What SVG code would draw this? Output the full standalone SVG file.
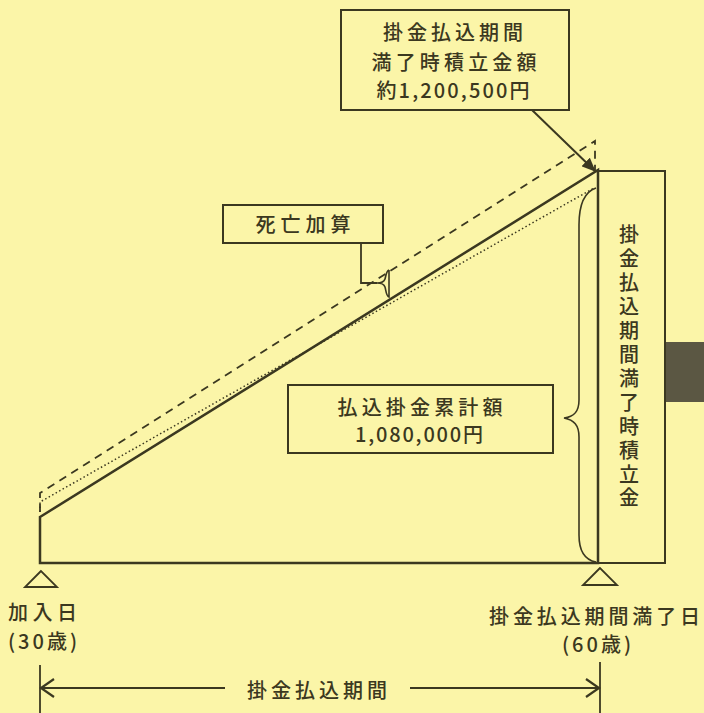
<svg xmlns="http://www.w3.org/2000/svg" width="704" height="713" viewBox="0 0 704 713">
<style>
.ln{fill:none;stroke:#3b3820;stroke-linecap:butt;stroke-linejoin:miter}
.box{fill:#fbf5a8;stroke:#3b3820;stroke-width:2}
.t{font-family:"Noto Sans CJK JP","Noto Sans",sans-serif;font-size:20px;font-weight:500;fill:#3b3820}
.v{font-family:"Liberation Sans","Noto Sans CJK JP",sans-serif;font-size:20px;font-weight:500;fill:#3b3820;text-anchor:middle}
.c{text-anchor:middle}
</style>
<defs>
<marker id="fa" markerWidth="14" markerHeight="12" refX="13" refY="6" orient="auto" markerUnits="userSpaceOnUse">
<path d="M0,0 L14,6 L0,12 Z" fill="#3b3820"/>
</marker>
<marker id="ch" markerWidth="16" markerHeight="22" refX="14" refY="11" orient="auto" markerUnits="userSpaceOnUse">
<path d="M1,2 L14,11 L1,20" fill="none" stroke="#3b3820" stroke-width="2.2"/>
</marker>
</defs>
<rect x="0" y="0" width="704" height="713" fill="#fbf5a8"/>
<rect x="666" y="342" width="38" height="60" fill="#5b5743"/>

<g id="connectors">
<path class="ln" d="M40,517 L598,170 L598,563 L40,563 Z" stroke-width="2.5"/>
<path class="ln" d="M40,512 L40,493 L595,141 L595,172" stroke-width="1.8" stroke-dasharray="8,6"/>
<path class="ln" d="M40,512 L40,502 L594,188" stroke-width="1.5" stroke-dasharray="1.5,2.5"/>
<path class="ln" d="M596,188 C584,192 579,205 579,225 L579,400 C579,412 574,417 564,418 C574,420 579,425 579,437 L579,535 C579,552 585,560 596,562" stroke="#5e5c40" stroke-width="1.6"/>
<line class="ln" x1="532" y1="110" x2="595" y2="171" stroke-width="2" marker-end="url(#fa)"/>
<path class="ln" d="M361,243 L361,283 L377,283" stroke-width="1.8"/>
<path class="ln" d="M389,270 C386,271 386,276 385,279 C384,282 381,283 377,283 C381,283 384,284 385,287 C386,290 386,296 389,297 L389,270" stroke-width="1.6"/>
<path class="ln" d="M41,571 L25,587 L57,587 Z" stroke-width="1.8"/>
<path class="ln" d="M600,568 L583,585 L617,585 Z" stroke-width="1.8"/>
<line class="ln" x1="40" y1="665" x2="40" y2="713" stroke-width="1.8"/>
<line class="ln" x1="600" y1="662" x2="600" y2="713" stroke-width="1.8"/>
<line class="ln" x1="225" y1="688" x2="41" y2="688" stroke-width="2.2" marker-end="url(#ch)"/>
<line class="ln" x1="410" y1="688" x2="599" y2="688" stroke-width="2.2" marker-end="url(#ch)"/>
</g>

<g id="node-total">
<rect class="box" x="341" y="10" width="228" height="100"/>
<text class="t c" x="453" y="40" textLength="140" lengthAdjust="spacing">掛金払込期間</text>
<text class="t c" x="454" y="70" textLength="165" lengthAdjust="spacing">満了時積立金額</text>
<text class="t c" x="453" y="98" textLength="153" lengthAdjust="spacing">約1,200,500円</text>
</g>

<g id="node-death">
<rect class="box" x="223" y="205" width="160" height="38"/>
<text class="t c" x="303" y="232" textLength="95" lengthAdjust="spacing">死亡加算</text>
</g>

<g id="node-paid">
<rect class="box" x="288" y="385" width="265" height="68"/>
<text class="t c" x="420" y="415" textLength="165" lengthAdjust="spacing">払込掛金累計額</text>
<text class="t c" x="419" y="442" textLength="128" lengthAdjust="spacing">1,080,000円</text>
</g>

<g id="node-maturity">
<rect x="598" y="171" width="67" height="392" fill="none" stroke="#3b3820" stroke-width="2"/>
<text class="v" x="629" y="242">掛</text>
<text class="v" x="629" y="266">金</text>
<text class="v" x="629" y="290">払</text>
<text class="v" x="629" y="314">込</text>
<text class="v" x="629" y="338">期</text>
<text class="v" x="629" y="362">間</text>
<text class="v" x="629" y="386">満</text>
<text class="v" x="629" y="410">了</text>
<text class="v" x="629" y="434">時</text>
<text class="v" x="629" y="458">積</text>
<text class="v" x="629" y="482">立</text>
<text class="v" x="629" y="505">金</text>
</g>

<g id="node-start">
<text class="t" x="8" y="620" textLength="69" lengthAdjust="spacing">加入日</text>
<text class="t" x="8" y="649" style="letter-spacing:3px">(30歳)</text>
</g>

<g id="node-end">
<text class="t" x="489" y="624" textLength="211" lengthAdjust="spacing">掛金払込期間満了日</text>
<text class="t" x="562" y="652" style="letter-spacing:3px">(60歳)</text>
</g>

<g id="node-period">
<text class="t c" x="317" y="698" textLength="140" lengthAdjust="spacing">掛金払込期間</text>
</g>
</svg>
